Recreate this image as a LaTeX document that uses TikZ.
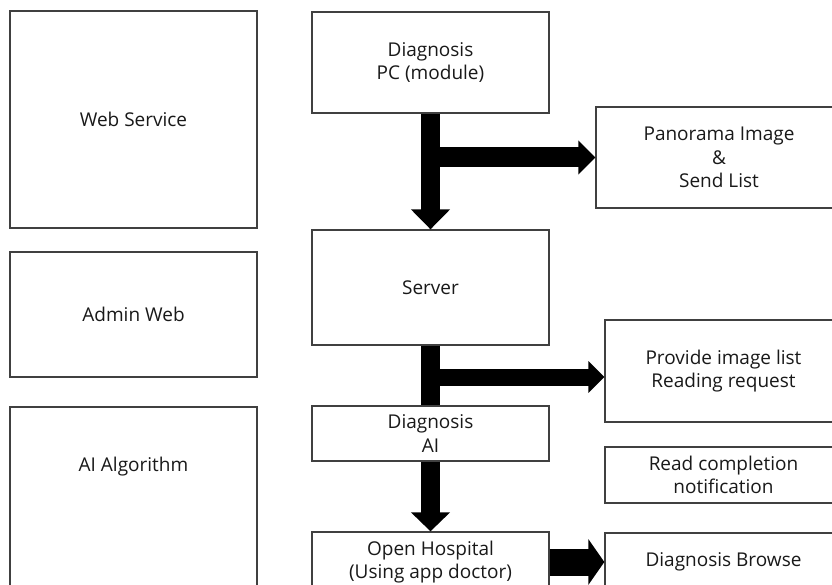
\documentclass[tikz,border=0pt]{standalone}
\usepackage{fontspec}
\setmainfont{Open Sans}
\usetikzlibrary{arrows.meta,calc}
\tikzset{
  box/.style={draw=black!75, line width=1.3pt, fill=white, rectangle, inner sep=0pt, align=center,
    text=black!90, font=\fontsize{19}{23.5}\selectfont},
  txt/.style={inner sep=0pt, align=center, text=black!90, font=\fontsize{19}{23.5}\selectfont},
  bar/.style={draw=black, line cap=butt},
}
\begin{document}
\begin{tikzpicture}[x=1pt,y=-1pt]
\useasboundingbox (0,0) rectangle (832,585);
\clip (0,0) rectangle (832,585);
% left column
\node[box, minimum width=247, minimum height=217] (web) at (133.5,119.5) {Web Service};
\node[box, minimum width=247, minimum height=125] (admin) at (133.5,314.5) {Admin Web};
\node[box, minimum width=247, minimum height=200] (alg) at (133.5,507) {};
\node[txt] (algtxt) at (133.5,467) {AI Algorithm};
% centre column
\node[box, minimum width=237, minimum height=101] (pc) at (430.5,62.5) {Diagnosis\\PC (module)};
\node[box, minimum width=237, minimum height=115] (server) at (430.5,287.5) {Server};
\node[box, minimum width=237, minimum height=55] (dai) at (430.5,433.5) {Diagnosis\\AI};
\node[box, minimum width=237, minimum height=60] (oh) at (430.5,562) {Open Hospital\\(Using app doctor)};
% right column
\node[box, minimum width=246, minimum height=101] (pano) at (719,157.5) {Panorama Image\\\&\\Send List};
\node[box, minimum width=237, minimum height=102] (prov) at (723.5,371) {Provide image list\\Reading request};
\node[box, minimum width=237, minimum height=56] (read) at (723.5,475) {Read completion\\notification};
\node[box, minimum width=237, minimum height=58] (browse) at (723.5,562) {Diagnosis Browse};
% arrows
\draw[bar, line width=19pt, -{Triangle[width=38pt,length=20pt]}] (pc.south) -- (server.north);
\draw[bar, line width=20pt, -{Triangle[width=33pt,length=17pt]}] (pc.south |- pano.west) -- (pano.west);
\draw[bar, line width=19pt] (server.south) -- (dai.north);
\path (prov.west) ++(0,6) coordinate (b2end);
\draw[bar, line width=17pt, -{Triangle[width=31pt,length=16pt]}] (server.south |- b2end) -- (b2end);
\draw[bar, line width=19pt, -{Triangle[width=38pt,length=19pt]}] (dai.south) -- (oh.north);
\draw[bar, line width=27pt, -{Triangle[width=45pt,length=16pt]}] (oh.east) -- (browse.west);
\end{tikzpicture}
\end{document}
